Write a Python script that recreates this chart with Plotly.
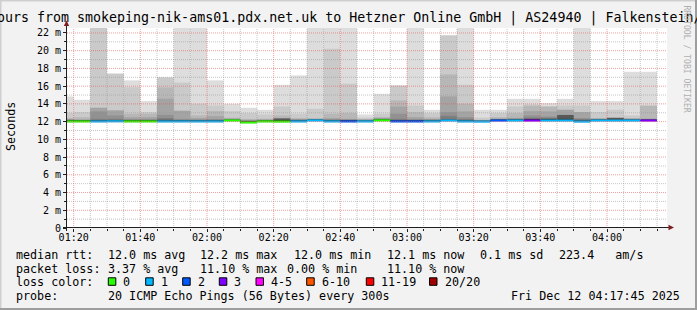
import plotly.graph_objects as go
import pandas as pd

# ---------------- data ----------------
# 5-minute SmokePing bins, labelled by their end time
bin_end = pd.date_range("2025-12-12 01:20:00", periods=36, freq="5min")

median_ms = [12.02, 12.02, 12.02, 12.04, 12.02, 12.02, 12.02, 12.02, 12.02, 12.02,
             12.13, 11.90, 12.02, 12.00, 12.02, 12.13, 12.02, 12.02, 12.02, 12.14,
             12.02, 12.02, 12.02, 12.12, 12.02, 12.00, 12.12, 12.12, 12.12, 12.12,
             12.12, 12.00, 12.12, 12.12, 12.12, 12.12]

loss_pings = [0, 0, 1, 1, 0, 0, 1, 1, 1, 1, 0, 0, 0, 0, 1, 1, 1, 2, 1, 0,
              2, 2, 1, 1, 1, 1, 2, 1, 3, 1, 1, 1, 1, 1, 1, 3]

rtt_min_ms = [11.88, 11.88, 11.88, 11.88, 11.88, 11.88, 11.88, 11.88, 11.88, 11.88,
              11.98, 11.78, 11.88, 11.88, 11.88, 11.98, 11.88, 11.88, 11.88, 11.98,
              11.88, 11.88, 11.88, 11.98, 11.88, 11.87, 11.98, 11.98, 11.98, 11.98,
              11.98, 11.87, 11.98, 11.98, 11.98, 11.98]

# upper ping ranks (20 = slowest ... 11 = just above median), ms
ping20 = [14.84, 14.46, 24.00, 17.42, 16.65, 14.31, 17.00, 24.00, 24.00, 16.65,
          14.01, 13.56, 13.33, 16.15, 17.21, 24.00, 24.00, 24.00, 12.81, 15.14,
          16.10, 24.00, 13.33, 21.75, 24.00, 13.33, 13.33, 14.57, 14.57, 14.09,
          14.57, 24.00, 14.31, 14.31, 17.62, 17.62]
ping19 = [12.96, 13.07, 23.50, 17.40, 15.89, 13.07, 16.98, 16.40, 14.00, 13.82,
          13.19, 12.96, 12.81, 13.71, 12.89, 13.45, 20.21, 16.27, 12.45, 12.89,
          16.05, 13.82, 12.96, 21.71, 16.15, 12.44, 12.96, 13.71, 13.94, 13.71,
          13.82, 13.82, 13.07, 13.33, 12.70, 13.82]
ping18 = [12.40, 12.50, 13.57, 13.27, 12.89, 12.89, 15.85, 13.26, 12.70, 13.19,
          12.44, 12.30, 12.32, 12.70, 12.40, 12.40, 12.89, 12.96, 12.30, 12.51,
          14.39, 13.07, 12.50, 17.32, 14.01, 12.20, 12.50, 12.96, 13.79, 13.70,
          13.34, 13.08, 12.40, 12.50, 12.40, 13.80]
ping17 = [12.30, 12.25, 13.56, 13.26, 12.50, 12.50, 14.58, 13.20, 12.40, 12.62,
          12.35, 12.20, 12.25, 12.40, 12.30, 12.30, 12.40, 12.32, 12.25, 12.40,
          13.71, 12.51, 12.30, 14.84, 13.15, 12.15, 12.35, 12.44, 13.19, 13.15,
          13.33, 13.07, 12.35, 12.45, 12.35, 12.35]
ping16 = [12.25, 12.20, 13.15, 12.70, 12.30, 12.30, 12.77, 12.32, 12.25, 12.30,
          12.30, 12.15, 12.20, 12.36, 12.25, 12.25, 12.30, 12.25, 12.20, 12.35,
          12.89, 12.30, 12.25, 13.07, 12.51, 12.12, 12.30, 12.35, 12.70, 12.58,
          12.77, 12.40, 12.30, 12.42, 12.30, 12.30]
ping15 = [12.20, 12.17, 12.32, 12.32, 12.20, 12.20, 12.40, 12.20, 12.20, 12.20,
          12.25, 12.10, 12.15, 12.34, 12.20, 12.22, 12.20, 12.20, 12.15, 12.30,
          12.32, 12.20, 12.20, 12.66, 12.30, 12.10, 12.25, 12.30, 12.44, 12.44,
          12.76, 12.30, 12.25, 12.41, 12.25, 12.25]
ping14 = [12.15, 12.14, 12.14, 12.20, 12.15, 12.15, 12.25, 12.15, 12.15, 12.15,
          12.20, 12.05, 12.12, 12.33, 12.15, 12.20, 12.15, 12.15, 12.12, 12.25,
          12.20, 12.15, 12.15, 12.31, 12.20, 12.08, 12.22, 12.25, 12.35, 12.35,
          12.75, 12.20, 12.22, 12.40, 12.22, 12.22]
ping13 = [12.12, 12.12, 12.12, 12.15, 12.12, 12.12, 12.15, 12.12, 12.12, 12.12,
          12.18, 12.02, 12.10, 12.32, 12.12, 12.19, 12.12, 12.12, 12.10, 12.22,
          12.15, 12.12, 12.12, 12.30, 12.15, 12.06, 12.20, 12.22, 12.30, 12.30,
          12.74, 12.12, 12.20, 12.39, 12.20, 12.20]
ping12 = [12.10, 12.10, 12.10, 12.12, 12.10, 12.10, 12.12, 12.10, 12.10, 12.10,
          12.16, 12.00, 12.08, 12.14, 12.10, 12.18, 12.10, 12.10, 12.08, 12.20,
          12.12, 12.10, 12.10, 12.16, 12.12, 12.05, 12.18, 12.20, 12.25, 12.25,
          12.32, 12.08, 12.18, 12.30, 12.18, 12.18]
ping11 = [12.08, 12.08, 12.08, 12.10, 12.08, 12.08, 12.10, 12.08, 12.08, 12.08,
          12.15, 11.98, 12.06, 12.12, 12.08, 12.17, 12.08, 12.08, 12.06, 12.18,
          12.10, 12.08, 12.08, 12.15, 12.10, 12.04, 12.17, 12.18, 12.20, 12.20,
          12.20, 12.05, 12.17, 12.17, 12.17, 12.17]

y_tick_values = [0, 2, 4, 6, 8, 10, 12, 14, 16, 18, 20, 22]
y_tick_labels = ["0", "2 m", "4 m", "6 m", "8 m", "10 m", "12 m", "14 m",
                 "16 m", "18 m", "20 m", "22 m"]

loss_color_labels = ["0", "1", "2", "3", "4-5", "6-10", "11-19", "20/20"]
loss_color_max = [0, 1, 2, 3, 5, 10, 19, 20]
loss_colors = ["#26ff00", "#00b8ff", "#0059ff", "#7e00ff",
               "#ff00ff", "#ff5500", "#ff0000", "#a00000"]

title_text = "ours from smokeping-nik-ams01.pdx.net.uk to Hetzner Online GmbH | AS24940 | Falkenstein/"
rtt_stats = ["12.0 ms avg", "12.2 ms max", "12.0 ms min", "12.1 ms now",
             "0.1 ms sd", "223.4   am/s"]
loss_stats = ["3.37 % avg", "11.10 % max", "0.00 % min", "11.10 % now"]
probe_text = "20 ICMP Echo Pings (56 Bytes) every 300s"
stamp_text = "Fri Dec 12 04:17:45 2025"

# ---------------- layout geometry ----------------
W, H = 697, 310
L, R, T, B = 67, 667, 28, 228
MONO = "DejaVu Sans Mono"


def px(x):
    return (x - L) / (R - L)


def py(y):
    return (B - y) / (B - T)


def loss_color(n):
    for lim, c in zip(loss_color_max, loss_colors):
        if n <= lim:
            return c
    return loss_colors[-1]


x_center = bin_end - pd.Timedelta(seconds=150)
BIN_MS = 300000

upper_levels = [ping20, ping19, ping18, ping17, ping16,
                ping15, ping14, ping13, ping12, ping11]
smoke_colors = ["#dddddd", "#cacaca", "#b7b7b7", "#a4a4a4", "#919191",
                "#7e7e7e", "#6b6b6b", "#585858", "#454545", "#323232"]

fig = go.Figure()
for k, (upper, col) in enumerate(zip(upper_levels, smoke_colors)):
    base = rtt_min_ms if k == 0 else median_ms
    heights = [max(u - b, 0) for u, b in zip(upper, base)]
    fig.add_trace(go.Bar(x=x_center, y=heights, base=base, width=BIN_MS,
                         marker=dict(color=col, line=dict(width=0)),
                         hoverinfo="skip", showlegend=False))

LINE_H = 0.23
fig.add_trace(go.Bar(x=x_center, y=[LINE_H] * len(median_ms),
                     base=[m - LINE_H / 2 for m in median_ms], width=BIN_MS,
                     marker=dict(color=[loss_color(n) for n in loss_pings],
                                 line=dict(width=0)),
                     hoverinfo="skip", showlegend=False))

GRAY = "rgba(150,150,150,0.55)"
RED = "rgba(230,80,80,0.55)"
shapes = []
for v in range(1, 23):
    shapes.append(dict(type="line", xref="paper", yref="y", x0=0, x1=1, y0=v, y1=v,
                       layer="above",
                       line=dict(color=RED if v % 2 == 0 else GRAY, width=1, dash="1px,1px")))
for t in pd.date_range("2025-12-12 01:20:00", "2025-12-12 04:15:00", freq="5min"):
    shapes.append(dict(type="line", xref="x", yref="paper",
                       x0=t.strftime("%Y-%m-%d %H:%M:%S"), x1=t.strftime("%Y-%m-%d %H:%M:%S"),
                       y0=0, y1=1, layer="above",
                       line=dict(color=RED if t.minute % 20 == 0 else GRAY, width=1,
                                 dash="1px,1px")))

AXIS = "#1f1f1f"
ARROW = "#801f1f"
# axis lines
shapes.append(dict(type="line", xref="paper", yref="paper", x0=px(63), x1=px(670),
                   y0=py(227.5), y1=py(227.5), layer="above", line=dict(color=AXIS, width=1)))
shapes.append(dict(type="line", xref="paper", yref="paper", x0=px(66.5), x1=px(66.5),
                   y0=py(231), y1=py(24), layer="above", line=dict(color=AXIS, width=1)))
# arrows
shapes.append(dict(type="path", xref="paper", yref="paper", layer="above",
                   path=f"M {px(66.5)},{py(20.5)} L {px(63.8)},{py(26)} L {px(69.2)},{py(26)} Z",
                   fillcolor=ARROW, line=dict(width=0)))
shapes.append(dict(type="path", xref="paper", yref="paper", layer="above",
                   path=f"M {px(674)},{py(227.5)} L {px(668.5)},{py(224.8)} L {px(668.5)},{py(230.2)} Z",
                   fillcolor=ARROW, line=dict(width=0)))
# image frame (3D border)
shapes.append(dict(type="rect", xref="paper", yref="paper", x0=px(0), x1=px(697),
                   y0=py(0), y1=py(1.5), fillcolor="#cfcfcf", line=dict(width=0), layer="above"))
shapes.append(dict(type="rect", xref="paper", yref="paper", x0=px(0), x1=px(1.5),
                   y0=py(0), y1=py(310), fillcolor="#cfcfcf", line=dict(width=0), layer="above"))
shapes.append(dict(type="rect", xref="paper", yref="paper", x0=px(0), x1=px(697),
                   y0=py(308), y1=py(310), fillcolor="#9e9e9e", line=dict(width=0), layer="above"))
shapes.append(dict(type="rect", xref="paper", yref="paper", x0=px(695), x1=px(697),
                   y0=py(0), y1=py(310), fillcolor="#9e9e9e", line=dict(width=0), layer="above"))

# loss colour legend boxes
box_left = [108.3, 145.7, 182.7, 219.3, 256.0, 306.7, 366.3, 429.5]
for bx, col in zip(box_left, loss_colors):
    shapes.append(dict(type="rect", xref="paper", yref="paper", x0=px(bx), x1=px(bx + 7.5),
                       y0=py(285.3), y1=py(277.8), fillcolor=col,
                       line=dict(color="black", width=1), layer="above"))

annotations = []


def txt(text, x, y, size=11.7, xanchor="left", color="black", angle=0):
    annotations.append(dict(text=text, x=px(x), y=py(y), xref="paper", yref="paper",
                            xanchor=xanchor, yanchor="middle", showarrow=False,
                            borderpad=0, textangle=angle,
                            font=dict(family=MONO, size=size, color=color)))


BEAR = 0.7
txt(title_text, -4.3, 18.5, size=13.3)
txt("RRDTOOL / TOBI OETIKER", 686.5, 59, size=8.1, xanchor="center", color="#b0b0b0", angle=90)
txt("Seconds", 11, 127, xanchor="center", angle=-90)

row_y = [255.0, 268.7, 282.3, 296.0]
txt("median rtt:", 16 - BEAR, row_y[0])
for s, x in zip(rtt_stats, [107.3, 200.0, 293.3, 386.7, 479.3, 558.3]):
    txt(s, x - BEAR, row_y[0])
txt("packet loss:", 16 - BEAR, row_y[1])
for s, x in zip(loss_stats, [107.3, 200.0, 286.3, 386.7]):
    txt(s, x - BEAR, row_y[1])
txt("loss color:", 16 - BEAR, row_y[2])
for bx, lab in zip(box_left, loss_color_labels):
    txt(lab, bx + 14.8 - BEAR, row_y[2])
txt("probe:", 16 - BEAR, row_y[3])
txt(probe_text, 107.3 - BEAR, row_y[3])
txt(stamp_text, 681, row_y[3], xanchor="right")

fig.update_layout(
    width=W, height=H,
    margin=dict(l=L, r=W - R, t=T, b=H - B, pad=0),
    paper_bgcolor="#f2f2f2", plot_bgcolor="white",
    barmode="overlay", showlegend=False,
    font=dict(family=MONO, color="black"),
    xaxis=dict(type="date",
               range=["2025-12-12 01:18:00", "2025-12-12 04:18:00"],
               tick0="2025-12-12 01:20:00", dtick=1200000, tickformat="%H:%M",
               showgrid=False, zeroline=False, showline=False,
               ticks="outside", ticklen=3, tickcolor=AXIS, tickwidth=1,
               ticklabelstandoff=-3,
               tickfont=dict(family=MONO, size=10, color="black"),
               minor=dict(dtick=300000, tick0="2025-12-12 01:20:00", ticks="outside",
                          ticklen=2, tickcolor=AXIS, showgrid=False),
               fixedrange=True),
    yaxis=dict(range=[0, 22.56], tickvals=y_tick_values, ticktext=y_tick_labels,
               showgrid=False, zeroline=False, showline=False,
               ticks="outside", ticklen=3, tickcolor=AXIS, tickwidth=1,
               tickfont=dict(family=MONO, size=10, color="black"),
               minor=dict(dtick=1, ticks="outside", ticklen=2, tickcolor=AXIS,
                          showgrid=False),
               fixedrange=True),
    shapes=shapes,
    annotations=annotations,
)

fig.write_html("out.html")
